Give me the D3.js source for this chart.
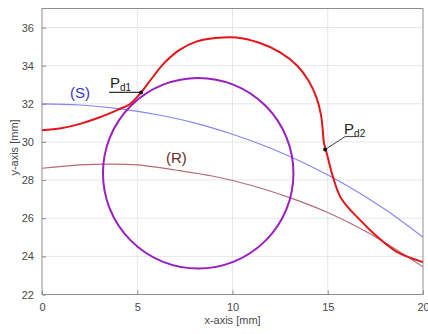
<!DOCTYPE html>
<html>
<head>
<meta charset="utf-8">
<script src="https://cdn.jsdelivr.net/npm/d3@7"></script>
<style>
  html, body { margin: 0; padding: 0; background: #fff; }
  svg { display: block; font-family: "Liberation Sans", Arial, sans-serif; }
</style>
</head>
<body>
<svg id="chart" width="428" height="334"></svg>
<script>
// Axis ranges and tick labels
const xDomain = [0, 20];
const yDomain = [22, 37];
const xTicks = [0, 5, 10, 15, 20];
const yTicks = [22, 24, 26, 28, 30, 32, 34, 36];

// Curve (S): [x, y] in mm
const curveS = [
  [0, 32.0], [2, 31.94], [4, 31.75], [6, 31.44], [8, 31.0], [10, 30.4],
  [12, 29.67], [14, 28.78], [16, 27.72], [18, 26.47], [20, 25.0]
];

// Curve (R): [x, y] in mm
const curveR = [
  [0, 28.62], [2, 28.8], [3.5, 28.84], [5, 28.8], [7, 28.53], [9, 28.2],
  [11, 27.72], [13, 27.08], [15, 26.3], [17, 25.3], [19, 24.1], [20, 23.45]
];

// Resulting profile (red): [x, y] in mm
const profile = [
  [0, 30.62], [1, 30.72], [2, 30.95], [3, 31.28], [4, 31.7], [4.6, 31.98],
  [5.2, 32.6], [5.7, 33.25], [6.4, 34.12], [7.2, 34.82], [8.1, 35.26],
  [9.1, 35.45], [10.2, 35.48], [11.4, 35.2], [12.5, 34.7], [13.4, 34.0],
  [14.0, 33.2], [14.4, 32.35], [14.64, 31.45], [14.74, 30.6], [14.8, 29.95],
  [14.95, 29.4], [15.25, 28.25], [15.7, 27.05], [16.7, 25.9], [17.6, 25.03],
  [18.6, 24.25], [20, 23.7]
];

// Circle: centre [x, y] and radius in mm
const circleCenter = [8.2, 28.36];
const circleRadius = 5.0;

// Marked points
const pointLabels = [
  { name: "P", sub: "d1", at: [5.2, 32.6] },
  { name: "P", sub: "d2", at: [14.86, 29.6] }
];

const margin = { top: 8.5, right: 5, bottom: 39.5, left: 42 };
const width = 428, height = 334;
const svg = d3.select("#chart");

const x = d3.scaleLinear().domain(xDomain).range([margin.left, width - margin.right]);
const y = d3.scaleLinear().domain(yDomain).range([height - margin.bottom, margin.top]);

// Grid
const grid = svg.append("g");
grid.selectAll("line.gx").data(xTicks.slice(1, -1)).join("line")
  .attr("x1", d => x(d)).attr("x2", d => x(d))
  .attr("y1", y(yDomain[0])).attr("y2", y(yDomain[1]))
  .attr("stroke", "#e6e6e6").attr("stroke-width", 1);
grid.selectAll("line.gy").data(yTicks.slice(1)).join("line")
  .attr("x1", x(xDomain[0])).attr("x2", x(xDomain[1]))
  .attr("y1", d => y(d)).attr("y2", d => y(d))
  .attr("stroke", "#e6e6e6").attr("stroke-width", 1);

// Axes
const xAxis = d3.axisBottom(x).tickValues(xTicks).tickSize(-4).tickPadding(9);
const yAxis = d3.axisLeft(y).tickValues(yTicks).tickSize(-4).tickPadding(8);
svg.append("g").attr("transform", `translate(0,${y(yDomain[0])})`).call(xAxis)
  .call(g => g.select(".domain").remove());
svg.append("g").attr("transform", `translate(${x(xDomain[0])},0)`).call(yAxis)
  .call(g => g.select(".domain").remove());
svg.selectAll(".tick line").attr("stroke", "#8a8a8a");
svg.selectAll(".tick text").attr("fill", "#4a4a4a").style("font-size", "11px")
  .style("font-family", "Liberation Sans, Arial, sans-serif");

// Box
svg.append("rect")
  .attr("x", x(xDomain[0])).attr("y", y(yDomain[1]))
  .attr("width", x(xDomain[1]) - x(xDomain[0]))
  .attr("height", y(yDomain[0]) - y(yDomain[1]))
  .attr("fill", "none").attr("stroke", "#8f8f8f").attr("stroke-width", 1);

// Axis titles
svg.append("text").attr("x", (x(xDomain[0]) + x(xDomain[1])) / 2).attr("y", 324)
  .attr("text-anchor", "middle").attr("fill", "#4a4a4a").style("font-size", "11px")
  .text("x-axis [mm]");
svg.append("text")
  .attr("transform", `translate(18,${(y(yDomain[0]) + y(yDomain[1])) / 2 - 4}) rotate(-90)`)
  .attr("text-anchor", "middle").attr("fill", "#4a4a4a").style("font-size", "11px")
  .text("y-axis [mm]");

const plot = svg.append("g");
const line = d3.line().x(d => x(d[0])).y(d => y(d[1])).curve(d3.curveCatmullRom.alpha(0.5));

plot.append("path").datum(curveS).attr("d", line)
  .attr("fill", "none").attr("stroke", "#8585f0").attr("stroke-width", 1.1);
plot.append("path").datum(curveR).attr("d", line)
  .attr("fill", "none").attr("stroke", "#b46a78").attr("stroke-width", 1.1);

plot.append("ellipse")
  .attr("cx", x(circleCenter[0])).attr("cy", y(circleCenter[1]))
  .attr("rx", x(circleRadius) - x(0)).attr("ry", y(yDomain[0]) - y(yDomain[0] + circleRadius))
  .attr("fill", "none").attr("stroke", "#9a1ec0").attr("stroke-width", 2);

plot.append("path").datum(profile).attr("d", line)
  .attr("fill", "none").attr("stroke", "#e3151a").attr("stroke-width", 2);

// Curve labels
svg.append("text").attr("x", 70).attr("y", 98).attr("fill", "#3434cc")
  .style("font-size", "15px").text("(S)");
svg.append("text").attr("x", 166).attr("y", 163).attr("fill", "#6e2a2a")
  .style("font-size", "15px").text("(R)");

// Point markers with leaders
const p1 = pointLabels[0], p2 = pointLabels[1];
const p1x = x(p1.at[0]), p1y = y(p1.at[1]);
svg.append("polyline")
  .attr("points", `${p1x - 32},${p1y} ${p1x},${p1y}`)
  .attr("fill", "none").attr("stroke", "#333").attr("stroke-width", 1.3);
const t1 = svg.append("text").attr("x", p1x - 31).attr("y", p1y - 4).attr("fill", "#222")
  .style("font-size", "15px");
t1.append("tspan").text(p1.name);
t1.append("tspan").attr("dy", 3).style("font-size", "10px").text(p1.sub);

const p2x = x(p2.at[0]), p2y = y(p2.at[1]);
svg.append("polyline")
  .attr("points", `${p2x},${p2y} ${p2x + 20},${p2y - 13} ${p2x + 31},${p2y - 13}`)
  .attr("fill", "none").attr("stroke", "#444").attr("stroke-width", 1);
const t2 = svg.append("text").attr("x", p2x + 19).attr("y", p2y - 16).attr("fill", "#222")
  .style("font-size", "15px");
t2.append("tspan").text(p2.name);
t2.append("tspan").attr("dy", 3).style("font-size", "10px").text(p2.sub);

svg.selectAll("circle.mark").data(pointLabels).join("circle").attr("class", "mark")
  .attr("cx", d => x(d.at[0])).attr("cy", d => y(d.at[1])).attr("r", 2)
  .attr("fill", "#111");
</script>
</body>
</html>
